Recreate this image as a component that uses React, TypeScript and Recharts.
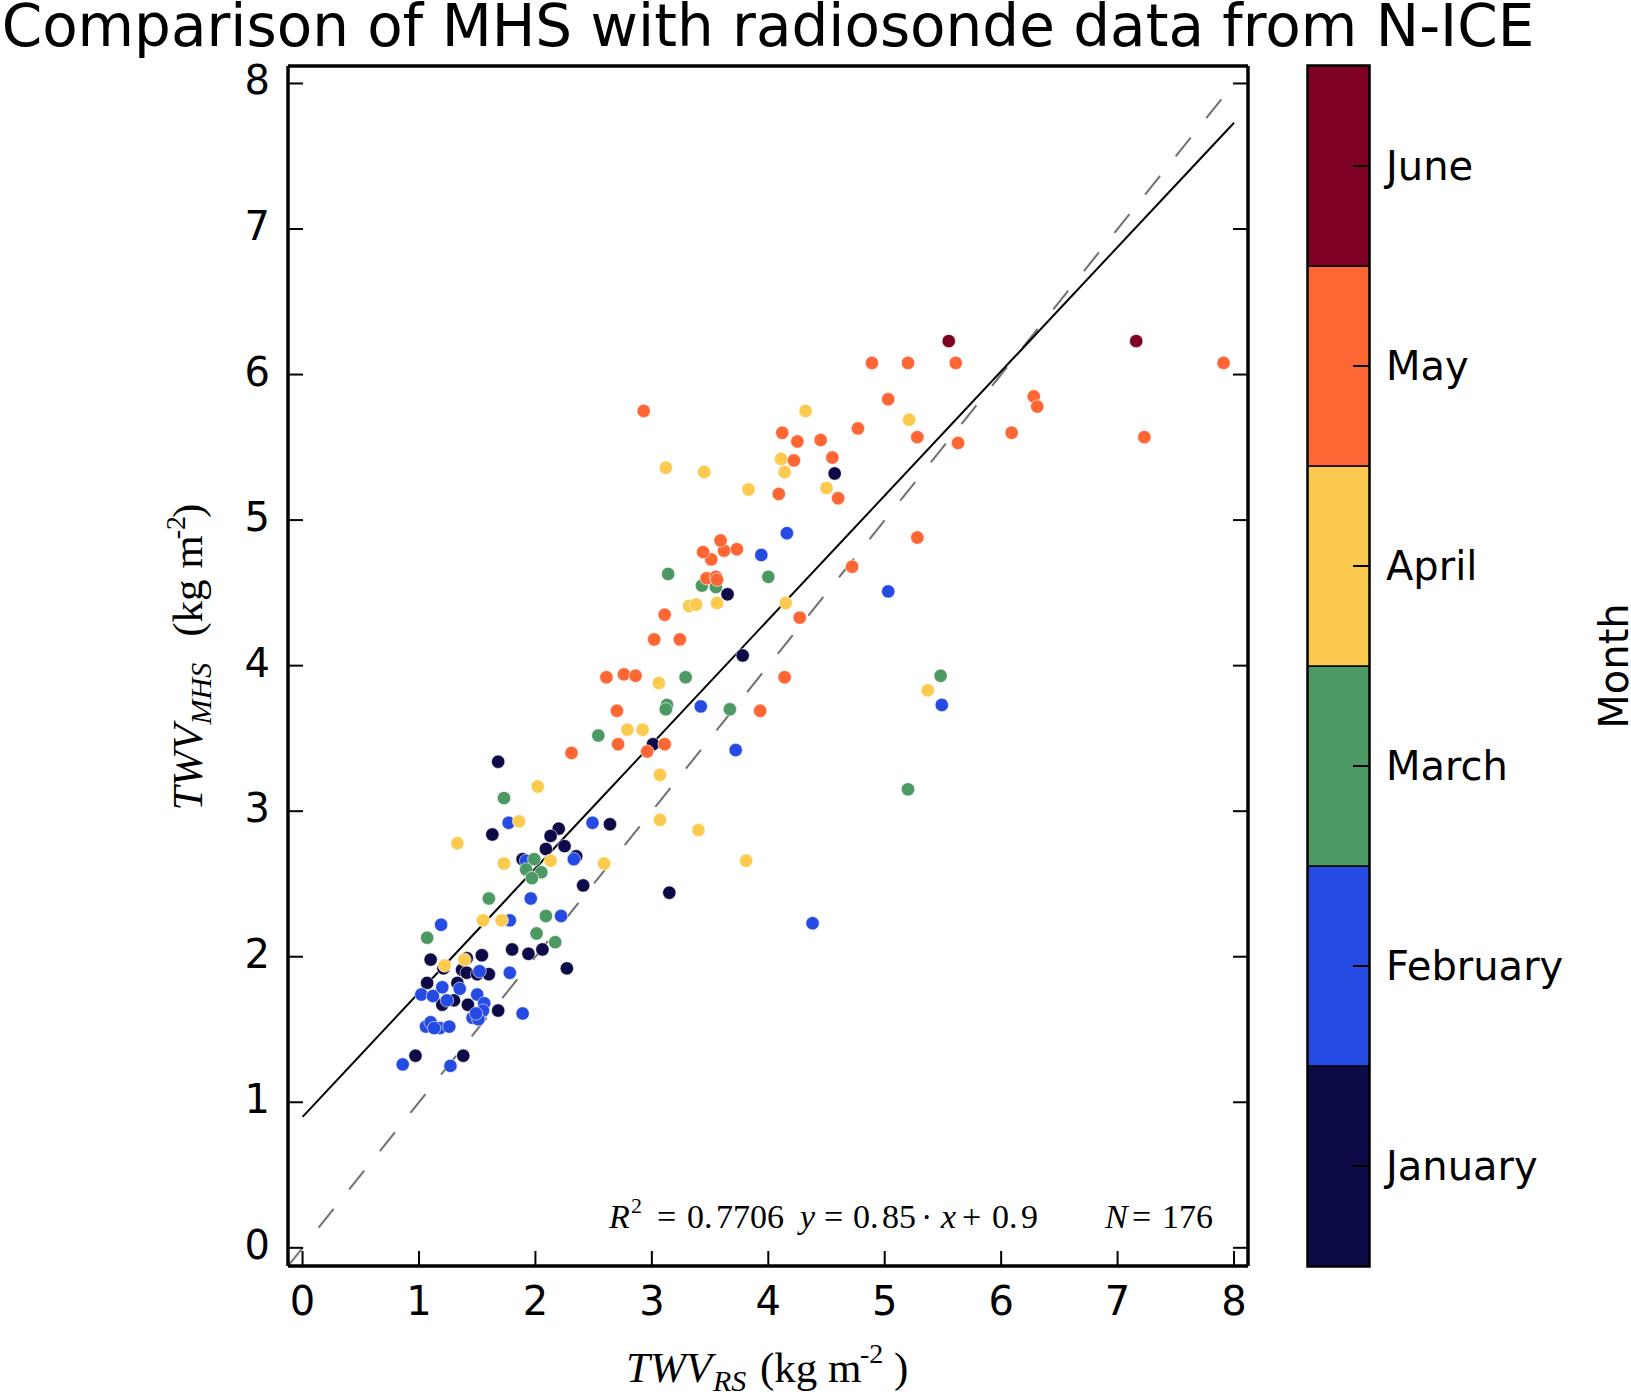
import React from "react";
import {
  Bar, BarChart, ReferenceArea, ReferenceLine, Scatter, ScatterChart, XAxis, YAxis,
} from "recharts";

// page + layout (pixels of the 1631x1394 frame)
const W = 1631;
const H = 1394;
const PLOT = { left: 288, top: 66, right: 1248, bottom: 1266 };
const CB = { left: 1308, right: 1369 };

const AX_MIN = -0.125;
const AX_MAX = 8.12;
const axisTicks = [0, 1, 2, 3, 4, 5, 6, 7, 8];

const months = ["January", "February", "March", "April", "May", "June"];
const monthColors = ["#0d0b47", "#264be3", "#4c9964", "#fdca50", "#fe6634", "#7e0022"];
const cbTicks = [0.5, 1.5, 2.5, 3.5, 4.5, 5.5];

// [TWV_RS, TWV_MHS] per month
const janPts = [
  [1.68, 3.34], [1.63, 2.84], [2.2, 2.88], [2.13, 2.83], [2.64, 2.91], [2.25, 2.76],
  [2.09, 2.74], [2.35, 2.69], [1.89, 2.67], [2.41, 2.49], [1.8, 2.05], [2.06, 2.05],
  [1.94, 2.02], [2.27, 1.92], [1.1, 1.98], [1.21, 1.92], [1.41, 1.99], [1.54, 2.01],
  [1.37, 1.91], [1.41, 1.89], [1.5, 1.88], [1.6, 1.88], [1.07, 1.82], [1.33, 1.82],
  [1.2, 1.67], [1.3, 1.7], [1.42, 1.67], [1.68, 1.63], [0.97, 1.32], [1.38, 1.32],
  [3.01, 3.46], [3.15, 2.44], [3.78, 4.07], [3.65, 4.49], [4.57, 5.32],
];
const febPts = [
  [1.77, 2.92], [2.49, 2.92], [2.33, 2.67], [1.92, 2.66], [1.96, 2.4], [2.22, 2.28],
  [1.19, 2.22], [1.78, 2.25], [1.78, 1.89], [1.52, 1.9], [1.02, 1.74], [1.12, 1.73],
  [1.2, 1.79], [1.35, 1.78], [1.24, 1.7], [1.5, 1.74], [1.56, 1.68], [1.55, 1.63],
  [1.89, 1.61], [1.46, 1.58], [1.51, 1.57], [1.49, 1.61], [1.06, 1.52], [1.1, 1.55],
  [1.18, 1.51], [1.26, 1.52], [1.13, 1.51], [0.86, 1.26], [1.27, 1.25], [3.42, 3.72],
  [3.72, 3.42], [3.94, 4.76], [4.16, 4.91], [5.03, 4.51], [5.49, 3.73], [4.38, 2.23],
];
const marPts = [
  [1.73, 3.09], [1.99, 2.67], [1.92, 2.6], [2.05, 2.58], [1.97, 2.54], [1.6, 2.4],
  [2.09, 2.28], [1.07, 2.13], [2.01, 2.16], [2.17, 2.1], [2.54, 3.52], [3.13, 3.73],
  [3.12, 3.7], [3.29, 3.92], [3.67, 3.7], [3.14, 4.63], [4.0, 4.61], [3.43, 4.55],
  [3.55, 4.54], [5.48, 3.93], [5.2, 3.15],
];
const aprPts = [
  [2.02, 3.17], [1.86, 2.93], [1.33, 2.78], [2.13, 2.66], [1.73, 2.64], [2.59, 2.64],
  [1.55, 2.25], [1.71, 2.25], [1.22, 1.94], [1.39, 1.98], [3.07, 3.25], [3.07, 2.94],
  [3.4, 2.87], [3.81, 2.66], [2.79, 3.56], [2.92, 3.56], [3.06, 3.88], [3.32, 4.41],
  [3.38, 4.42], [3.56, 4.43], [4.15, 4.43], [3.12, 5.36], [3.45, 5.33], [3.83, 5.21],
  [4.11, 5.42], [4.14, 5.33], [4.5, 5.22], [4.32, 5.75], [5.21, 5.69], [5.37, 3.83],
];
const mayPts = [
  [2.31, 3.4], [2.71, 3.46], [2.96, 3.41], [3.11, 3.46], [2.7, 3.69], [2.61, 3.92],
  [2.76, 3.94], [2.86, 3.93], [3.02, 4.18], [3.24, 4.18], [3.11, 4.35], [3.93, 3.69],
  [4.14, 3.92], [4.27, 4.33], [3.47, 4.6], [3.55, 4.61], [3.56, 4.59], [3.51, 4.73],
  [3.44, 4.78], [3.62, 4.79], [3.73, 4.8], [3.59, 4.86], [4.72, 4.68], [5.28, 4.88],
  [4.09, 5.18], [4.6, 5.15], [4.55, 5.43], [4.22, 5.41], [4.12, 5.6], [4.25, 5.54],
  [4.45, 5.55], [4.77, 5.63], [5.03, 5.83], [2.93, 5.75], [4.89, 6.08], [5.2, 6.08],
  [5.61, 6.08], [7.91, 6.08], [6.28, 5.85], [6.31, 5.78], [5.28, 5.57], [5.63, 5.53],
  [6.09, 5.6], [7.23, 5.57],
];
const junPts = [[5.55, 6.23], [7.16, 6.23]];
const monthPts = [janPts, febPts, marPts, aprPts, mayPts, junPts];

// reference lines
const oneToOne = [[AX_MIN, AX_MIN], [8, 8]];
const fitLine = [[0, 0.9], [8, 7.73]];

const sans = "'DejaVu Sans', sans-serif";
const serif = "'Liberation Serif', 'DejaVu Serif', serif";

function BottomTick({ x, y, payload }: any) {
  return (
    <g>
      <line x1={x} x2={x} y1={y} y2={y - 15} stroke="#000" strokeWidth={2} />
      <text x={x} y={y + 49} textAnchor="middle" fontSize={40} fontFamily={sans} fill="#000">
        {payload.value}
      </text>
    </g>
  );
}
function TopTick({ x, y }: any) {
  return <line x1={x} x2={x} y1={y} y2={y + 15} stroke="#000" strokeWidth={2} />;
}
function LeftTick({ x, y, payload }: any) {
  return (
    <g>
      <line x1={x} x2={x + 15} y1={y} y2={y} stroke="#000" strokeWidth={2} />
      <text x={x - 18} y={y + 11} textAnchor="end" fontSize={40} fontFamily={sans} fill="#000">
        {payload.value}
      </text>
    </g>
  );
}
function RightTick({ x, y }: any) {
  return <line x1={x} x2={x - 15} y1={y} y2={y} stroke="#000" strokeWidth={2} />;
}
function CbTick({ x, y, payload }: any) {
  return (
    <g>
      <line x1={x} x2={x - 16} y1={y} y2={y} stroke="#000" strokeWidth={2} />
      <text x={x + 17} y={y + 14} fontSize={40} fontFamily={sans} fill="#000">
        {months[Math.floor(payload.value)]}
      </text>
    </g>
  );
}

const dotShape = (color: string) => (p: any) => (
  <circle cx={p.cx} cy={p.cy} r={6.7} fill={color} stroke="#ffffff" strokeWidth={0.6} />
);

const frame = { stroke: "#000", strokeWidth: 3.5 };
const cbRow = [{ name: "cb", ...Object.fromEntries(months.map((m) => [m, 1])) }];

// axes get a 1px band (a 0px axis is not drawn)
const plotMargin = {
  top: PLOT.top - 1, left: PLOT.left - 1, right: W - PLOT.right - 1, bottom: H - PLOT.bottom - 1,
};
const axisCommon = {
  type: "number" as const, domain: [AX_MIN, AX_MAX], allowDataOverflow: true, ticks: axisTicks,
  interval: 0, tickSize: 0, tickMargin: 0, tickLine: false, axisLine: frame,
};

export default function App() {
  return (
    <div style={{ position: "absolute", left: 0, top: 0, width: W, height: H, background: "#fff", overflow: "hidden" }}>
      <div style={{ position: "absolute", left: 0, top: 0 }}>
        <ScatterChart width={W} height={H} margin={plotMargin}>
          <XAxis {...axisCommon} dataKey="x" height={1} tick={BottomTick} />
          <XAxis {...axisCommon} xAxisId="top" orientation="top" height={1} tick={TopTick} />
          <YAxis {...axisCommon} dataKey="y" width={1} tick={LeftTick} />
          <YAxis {...axisCommon} yAxisId="right" orientation="right" width={1} tick={RightTick} />
          <ReferenceLine
            segment={oneToOne.map(([x, y]) => ({ x, y }))}
            stroke="#707070" strokeWidth={2} strokeDasharray="24 25" ifOverflow="visible"
          />
          <ReferenceLine
            segment={fitLine.map(([x, y]) => ({ x, y }))}
            stroke="#000" strokeWidth={2} ifOverflow="visible"
          />
          {monthPts.map((pts, i) => (
            <Scatter
              key={months[i]}
              name={months[i]}
              data={pts.map(([x, y]) => ({ x, y }))}
              shape={dotShape(monthColors[i])}
              isAnimationActive={false}
            />
          ))}
        </ScatterChart>
      </div>

      <div style={{ position: "absolute", left: 0, top: 0 }}>
        <BarChart
          width={W}
          height={H}
          data={cbRow}
          barCategoryGap={0}
          barGap={0}
          margin={{ top: PLOT.top, left: CB.left, right: W - CB.right - 1, bottom: H - PLOT.bottom }}
        >
          <XAxis dataKey="name" hide />
          <YAxis yAxisId="cb" orientation="right" type="number" domain={[0, 6]} allowDataOverflow ticks={cbTicks}
            interval={0} width={1} tickSize={0} tickMargin={0} tickLine={false} axisLine={false} tick={CbTick} />
          {months.map((m, i) => (
            <Bar key={m} yAxisId="cb" dataKey={m} stackId="cb" fill={monthColors[i]} stroke="#000" strokeWidth={1.5}
              isAnimationActive={false} />
          ))}
          <ReferenceArea yAxisId="cb" y1={0} y2={6} fill="none" stroke="#000" strokeWidth={3.5} ifOverflow="visible" />
        </BarChart>
      </div>

      <svg width={W} height={H} style={{ position: "absolute", left: 0, top: 0, pointerEvents: "none" }}>
        <text x={(PLOT.left + PLOT.right) / 2} y={46} textAnchor="middle" fontSize={58} fontFamily={sans} fill="#000">
          Comparison of MHS with radiosonde data from N-ICE
        </text>

        <text y={1228} fontSize={34} fontFamily={serif} fill="#000">
          <tspan x={609} fontStyle="italic">R</tspan>
          <tspan x={631} y={1213} fontSize={22}>2</tspan>
          <tspan x={657} y={1228}>=</tspan>
          <tspan x={687}>0.</tspan>
          <tspan x={716}>7706</tspan>
          <tspan x={800} fontStyle="italic">y</tspan>
          <tspan x={824}>=</tspan>
          <tspan x={853}>0.</tspan>
          <tspan x={882}>85</tspan>
          <tspan x={921}>·</tspan>
          <tspan x={941} fontStyle="italic">x</tspan>
          <tspan x={962}>+</tspan>
          <tspan x={992}>0.</tspan>
          <tspan x={1021}>9</tspan>
        </text>
        <text y={1228} fontSize={34} fontFamily={serif} fill="#000">
          <tspan x={1105} fontStyle="italic">N</tspan>
          <tspan x={1132}>=</tspan>
          <tspan x={1162}>176</tspan>
        </text>

        <text y={1382} fontSize={43} fontFamily={serif} fill="#000">
          <tspan x={626} fontStyle="italic">TWV</tspan>
          <tspan x={713} y={1391} fontStyle="italic" fontSize={30}>RS</tspan>
          <tspan x={760} y={1382}>(kg m</tspan>
          <tspan x={860} y={1363} fontSize={28}>-2</tspan>
          <tspan x={894} y={1382}>)</tspan>
        </text>

        <text transform="translate(202,657) rotate(-90)" textAnchor="middle" fontSize={43} fontFamily={serif} fill="#000">
          <tspan fontStyle="italic">TWV</tspan>
          <tspan fontStyle="italic" fontSize={30} dy={9}>MHS</tspan>
          <tspan dy={-9} dx={26}>(kg m</tspan>
          <tspan fontSize={28} dy={-17} dx={-4}>-2</tspan>
          <tspan dy={17} dx={-2}>)</tspan>
        </text>

        <text transform="translate(1628,666) rotate(-90)" textAnchor="middle" fontSize={40} fontFamily={sans} fill="#000">
          Month
        </text>
      </svg>
    </div>
  );
}
